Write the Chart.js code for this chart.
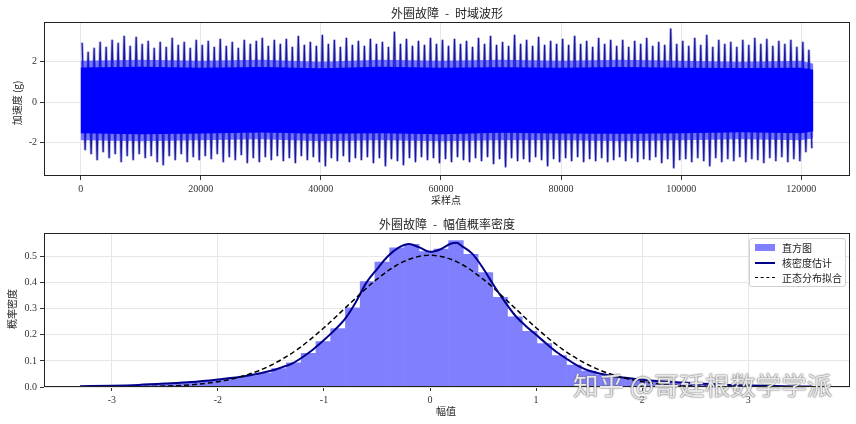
<!DOCTYPE html>
<html><head><meta charset="utf-8">
<script src="https://cdn.jsdelivr.net/npm/chart.js@4.4.0/dist/chart.umd.min.js"></script>
<style>
body{margin:0;background:#fff;width:856px;height:424px;position:relative;overflow:hidden;font-family:"Noto Sans CJK SC",sans-serif;}
canvas{position:absolute;left:0;}
.t{position:absolute;white-space:nowrap;color:#222;transform:translate(-50%,-50%);line-height:1;}
.r{transform:translate(-50%,-50%) rotate(-90deg);}
#legend{position:absolute;left:749px;top:238px;width:95px;height:47px;border:1px solid #d0d0d0;border-radius:3px;background:rgba(255,255,255,0.85);font-size:10px;color:#222;}
#legend .it{position:absolute;left:32px;line-height:1;}
#wm{position:absolute;left:573px;top:371px;font-size:25.5px;color:rgba(255,255,255,0.85);text-shadow:0 0 2px #666,0 0 1px #555;white-space:nowrap;line-height:1;}
</style></head><body>
<canvas id="c1" width="856" height="212" style="top:0;width:856px;height:212px"></canvas>
<canvas id="c2" width="856" height="212" style="top:212px;width:856px;height:212px"></canvas>
<div class="t" style="left:447px;top:13px;font-size:12px">外圈故障&ensp;-&ensp;时域波形</div>
<div class="t" style="left:446px;top:200px;font-size:10px">采样点</div>
<div class="t r" style="left:17px;top:103px;font-size:10px">加速度 (g)</div>
<div class="t" style="left:447px;top:224px;font-size:12px">外圈故障&ensp;-&ensp;幅值概率密度</div>
<div class="t" style="left:446px;top:411px;font-size:10px">幅值</div>
<div class="t r" style="left:12px;top:309px;font-size:10px">概率密度</div>
<div id="legend">
  <div style="position:absolute;left:5px;top:5px;width:20px;height:7px;background:#8080ff"></div>
  <div class="it" style="top:4px">直方图</div>
  <div style="position:absolute;left:5px;top:23px;width:20px;height:2px;background:#00008b"></div>
  <div class="it" style="top:19px">核密度估计</div>
  <div style="position:absolute;left:5px;top:38px;width:20px;height:0;border-top:1.5px dashed #000"></div>
  <div class="it" style="top:34px">正态分布拟合</div>
</div>
<div id="wm">知乎 @哥廷根数学学派</div>
<script>
// ---------- Top chart: time-domain waveform (per 1000-sample block extremes) ----------
const sampleTicks = [0, 20000, 40000, 60000, 80000, 100000, 120000];
const accelTicks = [-2, 0, 2];
const blockSize = 1000;
const spikeMax = [
 2.95,2.5,2.7,3.0,2.75,3.1,2.95,3.3,2.8,3.25,
 2.9,3.05,2.7,3.0,2.75,3.2,2.85,3.0,2.7,3.1,
 2.85,3.05,2.75,3.15,2.8,3.0,2.7,3.1,2.9,3.05,
 3.2,2.8,3.1,2.9,3.15,2.75,3.3,2.85,3.0,2.8,
 3.35,2.9,3.1,2.75,3.2,2.85,3.05,2.8,3.15,2.9,
 3.0,2.75,3.5,2.9,3.15,2.8,3.05,2.85,3.2,2.9,
 3.1,2.8,3.15,2.9,3.05,2.75,3.2,2.9,3.3,2.85,
 3.0,2.8,3.35,2.9,3.1,2.8,3.25,2.85,3.05,2.9,
 3.15,2.85,3.3,2.9,3.05,2.75,3.2,2.9,3.1,2.8,
 3.1,2.75,3.05,2.9,3.2,2.8,3.0,2.85,3.65,2.9,
 3.05,2.8,3.2,2.85,3.35,2.75,3.1,2.9,3.0,2.75,
 3.1,2.85,3.2,2.9,3.15,2.8,3.05,2.9,3.1,2.75,
 3.0,2.6];
const spikeMin = [
 -2.4,-2.6,-2.9,-2.5,-2.8,-2.6,-3.0,-2.7,-2.9,-2.6,
 -2.8,-2.7,-3.0,-3.15,-2.7,-2.9,-2.6,-3.0,-2.75,-2.9,
 -2.7,-2.85,-2.6,-3.0,-2.75,-2.9,-2.65,-3.05,-2.8,-3.0,
 -2.75,-2.9,-2.7,-2.95,-2.8,-3.05,-2.7,-2.9,-2.75,-3.0,
 -3.2,-2.8,-2.95,-2.7,-3.0,-2.8,-2.9,-2.75,-3.05,-2.8,
 -3.2,-2.85,-2.95,-3.15,-2.8,-3.0,-2.75,-2.9,-2.8,-3.05,
 -2.85,-3.0,-2.75,-2.9,-3.0,-2.8,-2.95,-2.75,-3.1,-2.85,
 -3.25,-2.8,-2.95,-2.85,-3.0,-2.75,-2.9,-3.2,-2.85,-3.0,
 -2.8,-2.95,-2.75,-3.0,-2.85,-2.95,-2.8,-3.0,-2.9,-2.75,
 -2.95,-2.8,-3.0,-2.85,-2.9,-2.75,-3.05,-2.85,-3.3,-2.9,
 -2.85,-3.0,-2.8,-2.95,-3.2,-2.8,-3.0,-2.85,-2.95,-2.75,
 -3.0,-2.85,-2.9,-3.05,-2.8,-2.95,-2.75,-3.0,-2.85,-2.95,
 -2.5,-2.3];
const bandSamples = [0,10000,20000,30000,40000,50000,60000,70000,80000,90000,100000,110000,120000,122000];
const coreHi  = [1.72,1.75,1.70,1.74,1.68,1.76,1.71,1.73,1.70,1.74,1.70,1.69,1.71,1.60];
const coreLo  = [-1.55,-1.60,-1.56,-1.52,-1.58,-1.55,-1.60,-1.53,-1.56,-1.58,-1.55,-1.51,-1.55,-1.45];
const fringeHi = [2.05,2.1,2.05,2.1,2.0,2.1,2.05,2.1,2.05,2.1,2.05,2.0,2.05,1.9];
const fringeLo = [-1.9,-1.95,-1.9,-1.85,-1.95,-1.9,-1.95,-1.9,-1.9,-1.95,-1.9,-1.85,-1.9,-1.8];

// ---------- Bottom chart: amplitude PDF ----------
const ampTicks = [-3, -2, -1, 0, 1, 2, 3];
const densTicks = [0.0, 0.1, 0.2, 0.3, 0.4, 0.5];
const binLeftEdge = -3.30;
const binWidth = 0.139;
const histDensity = [
 0.003,0.004,0.005,0.007,0.009,0.012,0.015,0.019,0.024,0.029,
 0.036,0.044,0.055,0.072,0.094,0.13,0.175,0.225,0.305,0.405,
 0.48,0.535,0.548,0.52,0.53,0.562,0.51,0.44,0.345,0.27,
 0.215,0.168,0.122,0.085,0.062,0.048,0.038,0.031,0.026,0.021,
 0.017,0.014,0.011,0.009,0.007,0.005,0.004,0.003,0.002,0.001];
const kdeX = [-3.3,-3.0,-2.75,-2.5,-2.25,-2.0,-1.75,-1.5,-1.4,-1.3,-1.2,-1.1,-1.0,-0.9,-0.8,-0.7,-0.6,-0.5,-0.4,-0.3,-0.2,-0.1,0.0,0.1,0.2,0.25,0.3,0.4,0.5,0.6,0.7,0.8,0.9,1.0,1.1,1.2,1.3,1.4,1.5,1.75,2.0,2.25,2.5,2.75,3.0,3.25,3.5,3.6];
const kdeY = [0.003,0.005,0.008,0.013,0.019,0.029,0.041,0.062,0.075,0.09,0.115,0.145,0.18,0.218,0.262,0.325,0.40,0.452,0.50,0.533,0.548,0.535,0.518,0.528,0.55,0.553,0.54,0.51,0.455,0.39,0.33,0.275,0.235,0.2,0.165,0.132,0.105,0.08,0.062,0.04,0.028,0.02,0.014,0.009,0.006,0.004,0.002,0.0015];
const normX = [-3.3,-3.0,-2.75,-2.5,-2.25,-2.0,-1.75,-1.5,-1.25,-1.0,-0.75,-0.5,-0.25,0,0.25,0.5,0.75,1.0,1.25,1.5,1.75,2.0,2.25,2.5,2.75,3.0,3.25,3.5,3.65];
const normY = [0.0001,0.0004,0.0012,0.0034,0.0088,0.0205,0.0434,0.0833,0.1444,0.227,0.3218,0.4133,0.4804,0.505,0.4804,0.4133,0.3218,0.227,0.1444,0.0833,0.0434,0.0205,0.0088,0.0034,0.0012,0.0004,0.0001,0.00003,0.00001];

// ---------- shared ----------
const tickFont = {family: '"Liberation Serif","DejaVu Serif",serif', size: 10};
const frame = {
  id: 'frame',
  afterDraw(c) {
    const a = c.chartArea, ctx = c.ctx;
    ctx.save();
    ctx.strokeStyle = '#222';
    ctx.lineWidth = 1;
    ctx.strokeRect(Math.round(a.left) + 0.5, Math.round(a.top) + 0.5, Math.round(a.right - a.left) - 1, Math.round(a.bottom - a.top) - 1);
    ctx.restore();
  }
};
function axis(min, max, ticks, fmt, fitFn) {
  return {
    type: 'linear', min, max, offset: false,
    afterBuildTicks: s => { s.ticks = ticks.map(v => ({value: v})); },
    afterFit: fitFn,
    ticks: {callback: fmt, font: tickFont, color: '#333', padding: 3, maxRotation: 0, autoSkip: false},
    grid: {color: '#e6e6e6', tickColor: '#333', tickLength: 4, lineWidth: 1, offset: false},
    border: {display: false}
  };
}

const spikePts = [];
spikeMax.forEach((v, k) => {
  spikePts.push({x: k * blockSize + 250, y: v});
  spikePts.push({x: k * blockSize + 750, y: spikeMin[k]});
});
const toPts = (xs, ys) => xs.map((x, i) => ({x, y: ys[i]}));

new Chart(document.getElementById('c1'), {
  type: 'line',
  data: {datasets: [
    {data: toPts(bandSamples, coreHi), borderWidth: 0, pointRadius: 0, backgroundColor: '#0000ff', fill: '+1', order: 1},
    {data: toPts(bandSamples, coreLo), borderWidth: 0, pointRadius: 0, fill: false, order: 1},
    {data: toPts(bandSamples, fringeHi), borderWidth: 0, pointRadius: 0, backgroundColor: 'rgba(30,30,255,0.6)', fill: '+1', order: 2},
    {data: toPts(bandSamples, fringeLo), borderWidth: 0, pointRadius: 0, fill: false, order: 2},
    {data: spikePts, borderColor: '#18188f', borderWidth: 1.1, pointRadius: 0, fill: false, order: 3},
    {data: spikePts, borderColor: 'rgba(70,70,235,0.5)', borderWidth: 2.6, pointRadius: 0, fill: false, order: 4}
  ]},
  options: {
    responsive: false, animation: false, events: [],
    layout: {padding: {left: 0, right: 6, top: 22, bottom: 0}},
    plugins: {legend: {display: false}, tooltip: {enabled: false}},
    scales: {
      x: axis(-6100, 128100, sampleTicks, v => String(v), s => { s.height = 36; }),
      y: axis(-3.68, 3.98, accelTicks, v => String(v), s => { s.width = 44; })
    }
  },
  plugins: [frame]
});

const histPts = histDensity.map((h, i) => ({x: binLeftEdge + binWidth * (i + 0.5), y: h}));
new Chart(document.getElementById('c2'), {
  type: 'bar',
  data: {datasets: [
    {type: 'line', data: toPts(normX, normY), borderColor: '#000', borderWidth: 1.5, borderDash: [5, 3], pointRadius: 0, cubicInterpolationMode: 'monotone', fill: false, order: 0},
    {type: 'line', data: toPts(kdeX, kdeY), borderColor: '#00008b', borderWidth: 2, pointRadius: 0, cubicInterpolationMode: 'monotone', fill: false, order: 1},
    {type: 'bar', data: histPts, backgroundColor: '#8080ff', borderWidth: 0, barPercentage: 1.04, categoryPercentage: 1, grouped: false, order: 2}
  ]},
  options: {
    responsive: false, animation: false, events: [],
    layout: {padding: {left: 0, right: 6, top: 21.3, bottom: 0}},
    plugins: {legend: {display: false}, tooltip: {enabled: false}},
    scales: {
      x: axis(-3.64, 3.96, ampTicks, v => String(v), s => { s.height = 37; }),
      y: axis(0, 0.589, densTicks, v => v.toFixed(1), s => { s.width = 44; })
    }
  },
  plugins: [frame]
});
</script>
</body></html>
